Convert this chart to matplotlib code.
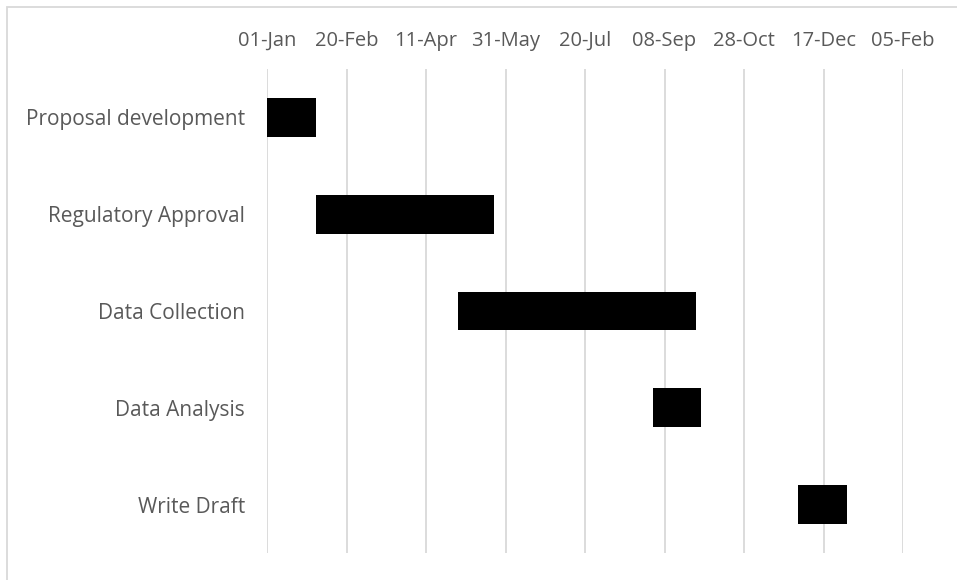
import matplotlib
matplotlib.use("Agg")
import matplotlib.pyplot as plt
import matplotlib.dates as mdates
from matplotlib.patches import Rectangle
import datetime as dt

tasks = ["Proposal development", "Regulatory Approval", "Data Collection", "Data Analysis", "Write Draft"]
start_dates = ["2019-01-01", "2019-02-01", "2019-05-01", "2019-09-01", "2019-12-01"]
durations = [31, 112, 150, 30, 31]
axis_start = "2019-01-01"
axis_end = "2020-02-05"
tick_step_days = 50

plt.rcParams['font.family'] = ['Open Sans', 'DejaVu Sans']

W, H = 957, 580
fig = plt.figure(figsize=(W / 100, H / 100), dpi=100)
ax = fig.add_axes([267 / W, 1 - 553 / H, (903 - 267) / W, (553 - 69) / H])

starts = [mdates.date2num(dt.date.fromisoformat(s)) for s in start_dates]
ypos = list(range(len(tasks)))
ax.barh(ypos, durations, left=starts, height=0.4, color="black")

x0 = mdates.date2num(dt.date.fromisoformat(axis_start))
x1 = mdates.date2num(dt.date.fromisoformat(axis_end))
ax.set_xlim(x0, x1)
ax.set_ylim(len(tasks) - 0.5, -0.5)

ticks = []
t = x0
while t <= x1 + 0.1:
    ticks.append(t)
    t += tick_step_days
ax.set_xticks(ticks)
ax.xaxis.set_major_formatter(mdates.DateFormatter("%d-%b"))
ax.xaxis.tick_top()
ax.tick_params(axis="x", length=0, pad=13, labelsize=14.5, colors="#595959")
ax.tick_params(axis="y", length=0, pad=16, labelsize=15, colors="#595959")
ax.set_yticks(ypos)
ax.set_yticklabels(tasks)
ax.grid(axis="x", color="#d9d9d9", linewidth=1.3)
ax.set_axisbelow(True)
for s in ax.spines.values():
    s.set_visible(False)

fig.patches.append(Rectangle((7 / W, -0.1), 1.2, 1 - 7 / H + 0.1, transform=fig.transFigure,
                             fill=False, edgecolor="#d9d9d9", linewidth=1.3))

fig.savefig("out.png", dpi=100)
